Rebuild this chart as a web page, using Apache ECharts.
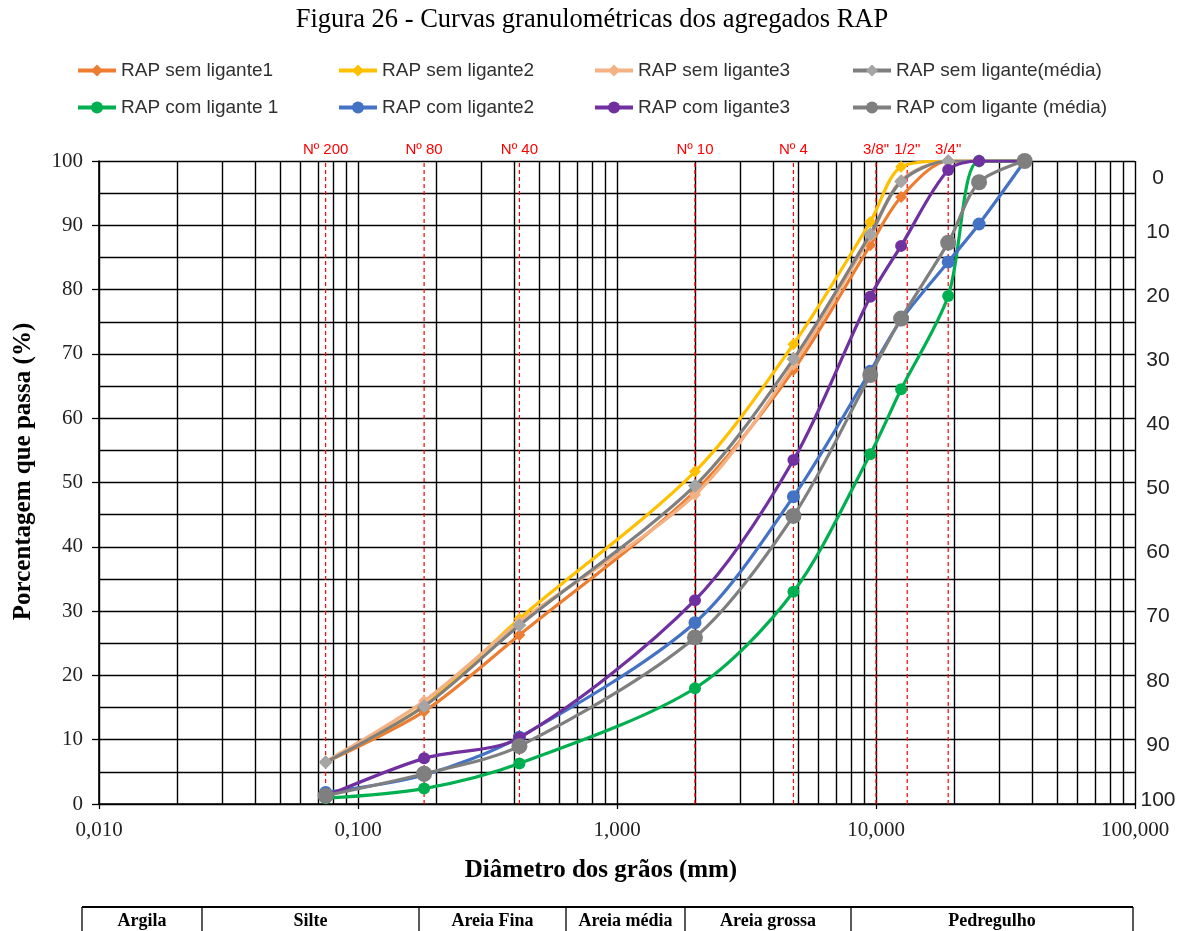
<!DOCTYPE html>
<html>
<head>
<meta charset="utf-8">
<script src="https://cdn.jsdelivr.net/npm/echarts@6/dist/echarts.min.js"></script>
<style>html,body{margin:0;padding:0;background:#fff;}#chart{width:1184px;height:931px;}</style>
</head>
<body>
<div id="chart"></div>
<script>
// ---- data ----
const sieves = [0.075, 0.18, 0.42, 2.0, 4.8, 9.5, 12.5, 19.0, 25.0, 37.5];
const semLigante1 = [6.5, 14.4, 26.3, 48.6, 67.5, 86.9, 94.4, 100, 100, 100];
const semLigante2 = [6.5, 15.3, 28.8, 51.7, 71.5, 90.5, 99.1, 100, 100, 100];
const semLigante3 = [6.6, 16.0, 28.3, 48.1, 68.3, 88.3, 97.0, 100, 100, 100];
const semLiganteMedia = [6.5, 15.2, 27.8, 49.5, 69.2, 88.6, 96.8, 100, 100, 100];
const comLigante1 = [0.9, 2.4, 6.3, 18.0, 33.0, 54.4, 64.5, 79.0, 100, 100];
const comLigante2 = [1.8, 4.5, 10.4, 28.2, 47.8, 67.3, 75.3, 84.3, 90.2, 100];
const comLigante3 = [1.2, 7.1, 10.3, 31.7, 53.5, 78.9, 86.8, 98.6, 100, 100];
const comLiganteMedia = [1.3, 4.7, 9.0, 25.9, 44.8, 66.7, 75.5, 87.3, 96.7, 100];
const sieveLabels = ['Nº 200', 'Nº 80', 'Nº 40', 'Nº 10', 'Nº 4', '3/8"', '1/2"', '3/4"'];
const sieveLines = [0.075, 0.18, 0.42, 2.0, 4.8, 10.0, 13.2, 19.0];
const rightTicks = [0, 10, 20, 30, 40, 50, 60, 70, 80, 90, 100];
const soilClasses = ['Argila', 'Silte', 'Areia Fina', 'Areia média', 'Areia grossa', 'Pedregulho'];
const seriesNames = ['RAP sem ligante1', 'RAP sem ligante2', 'RAP sem ligante3', 'RAP sem ligante(média)',
                     'RAP com ligante 1', 'RAP com ligante2', 'RAP com ligante3', 'RAP com ligante (média)'];

// ---- build ----
const allValues = [semLigante1, semLigante2, semLigante3, semLiganteMedia, comLigante1, comLigante2, comLigante3, comLiganteMedia];
const styles = [
  {color:'#ED7D31', line:'#ED7D31', symbol:'diamond', size:12},
  {color:'#FFC000', line:'#FFC000', symbol:'diamond', size:12},
  {color:'#F4B183', line:'#F4B183', symbol:'diamond', size:12},
  {color:'#A5A5A5', line:'#7F7F7F', symbol:'diamond', size:14},
  {color:'#00B050', line:'#00B050', symbol:'circle', size:12},
  {color:'#4472C4', line:'#4472C4', symbol:'circle', size:13},
  {color:'#7030A0', line:'#7030A0', symbol:'circle', size:12},
  {color:'#7F7F7F', line:'#7F7F7F', symbol:'circle', size:16}
];

// minor log gridlines (2..9 per decade)
const minorGrid = [];
[0.01, 0.1, 1, 10].forEach(d => { for (let k = 2; k <= 9; k++) minorGrid.push(+(k * d).toPrecision(3)); });

const series = allValues.map((vals, i) => ({
  name: seriesNames[i],
  type: 'line',
  xAxisIndex: 0, yAxisIndex: 0,
  data: sieves.map((s, j) => [s, vals[j]]),
  smooth: 0.3,
  symbol: styles[i].symbol,
  symbolSize: styles[i].size,
  showSymbol: true,
  itemStyle: {color: styles[i].color},
  lineStyle: {color: styles[i].line, width: 3.2},
  z: 5 + i
}));

// minor vertical gridlines
series.unshift({
  name: 'grid-minor', type: 'line', xAxisIndex: 0, yAxisIndex: 0, data: [], silent: true,
  markLine: {
    silent: true, z: 1, symbol: ['none', 'none'], animation: false,
    label: {show: false},
    lineStyle: {color: '#000', width: 1.4, type: 'solid'},
    data: minorGrid.map(v => ({xAxis: v}))
  }
});
// red sieve guide lines (as a segmented line series)
const sieveData = [];
sieveLines.forEach((x, i) => {
  sieveData.push({value: [x, 0], label: {show: false}});
  sieveData.push({value: [x, 100], name: sieveLabels[i], label: {show: true}});
  sieveData.push('-');
});
series.unshift({
  name: 'sieve-lines', type: 'line', xAxisIndex: 0, yAxisIndex: 0, silent: true, z: 3,
  data: sieveData, connectNulls: false,
  symbol: 'circle', symbolSize: 1, showSymbol: true,
  itemStyle: {color: 'rgba(0,0,0,0)'},
  lineStyle: {color: '#FF0000', width: 1.2, type: [4, 3]},
  label: {position: 'top', distance: 3, color: '#FF0000', fontSize: 15, fontFamily: 'Liberation Sans',
          formatter: p => p.name}
});
series.push({
  name: 'right-dummy', type: 'line', xAxisIndex: 1, yAxisIndex: 1, data: [], silent: true
});

const colX = [76, 337, 593, 851];
const rowY = [61, 98];
const legends = seriesNames.map((n, i) => ({
  data: [n], left: colX[i % 4], top: rowY[Math.floor(i / 4)], padding: 0,
  itemWidth: 38, itemHeight: 15, selectedMode: false,
  lineStyle: {width: 4},
  textStyle: {fontFamily: 'Liberation Sans', fontSize: 19, color: '#303030'}
}));

function tableGraphic() {
  const edges = [82, 202, 419, 566, 685, 851, 1133];
  const top = 907, bottom = 945;
  const els = [];
  els.push({type: 'line', shape: {x1: edges[0], y1: top, x2: edges[edges.length - 1], y2: top}, style: {stroke: '#000', lineWidth: 2.2}});
  edges.forEach(x => els.push({type: 'line', shape: {x1: x, y1: top, x2: x, y2: bottom}, style: {stroke: '#000', lineWidth: 1.3}}));
  soilClasses.forEach((t, i) => els.push({
    type: 'text', x: (edges[i] + edges[i + 1]) / 2, y: 921,
    style: {text: t, fill: '#000', font: 'bold 18px "Liberation Serif"', align: 'center', verticalAlign: 'middle'}
  }));
  return els;
}

const option = {
  backgroundColor: '#fff',
  animation: false,
  title: {
    text: 'Figura 26 - Curvas granulométricas dos agregados RAP',
    left: 'center', top: 2,
    textStyle: {fontFamily: 'Liberation Serif', fontWeight: 'normal', fontSize: 26.5, color: '#000'}
  },
  legend: legends,
  grid: [
    {left: 99, right: 49, top: 161, bottom: 127, containLabel: false},
    {left: 99, right: 49, top: 168, bottom: 122, containLabel: false}
  ],
  xAxis: [
    {
      type: 'log', logBase: 10, min: 0.01, max: 100, gridIndex: 0,
      name: 'Diâmetro dos grãos (mm)', nameLocation: 'middle', nameGap: 54,
      nameTextStyle: {fontFamily: 'Liberation Serif', fontWeight: 'bold', fontSize: 25, color: '#000', padding: [0, 32, 0, 0]},
      axisLine: {show: true, lineStyle: {color: '#000', width: 1.6}},
      axisTick: {show: true, length: 5, lineStyle: {color: '#000', width: 1.3}},
      axisLabel: {margin: 16, fontFamily: 'Liberation Serif', fontSize: 21, color: '#222',
                  formatter: v => Number(v).toFixed(3).replace('.', ',')},
      splitLine: {show: true, lineStyle: {color: '#000', width: 1.4}}
    },
    {type: 'value', gridIndex: 1, show: false, min: 0, max: 1}
  ],
  yAxis: [
    {
      type: 'value', min: 0, max: 100, interval: 10, gridIndex: 0,
      name: 'Porcentagem que passa (%)', nameLocation: 'middle', nameGap: 63, nameRotate: 90,
      nameTextStyle: {fontFamily: 'Liberation Serif', fontWeight: 'bold', fontSize: 25, color: '#000', padding: [0, 0, 0, 22]},
      axisLine: {show: true, lineStyle: {color: '#000', width: 1.6}},
      axisTick: {show: true, length: 7, lineStyle: {color: '#000', width: 1.3}},
      axisLabel: {margin: 16, fontFamily: 'Liberation Serif', fontSize: 21, color: '#222'},
      splitLine: {show: true, lineStyle: {color: '#000', width: 1.4}},
      minorTick: {show: false, splitNumber: 2},
      minorSplitLine: {show: true, lineStyle: {color: '#000', width: 1.4}}
    },
    {
      type: 'value', min: 0, max: 100, interval: 10, gridIndex: 1, position: 'right', inverse: true,
      axisLine: {show: false}, axisTick: {show: false}, splitLine: {show: false},
      axisLabel: {
        margin: 23, align: 'center', fontFamily: 'Liberation Sans', fontSize: 21, color: '#222',
        formatter: v => v === rightTicks[0] ? '{a|' + v + '}' : (v === rightTicks[rightTicks.length - 1] ? '{b|' + v + '}' : String(v)),
        rich: {
          a: {fontFamily: 'Liberation Sans', fontSize: 21, color: '#222', padding: [20, 0, 0, 0]},
          b: {fontFamily: 'Liberation Sans', fontSize: 21, color: '#222', padding: [0, 0, 18, 0]}
        }
      }
    }
  ],
  graphic: tableGraphic(),
  series: series
};

const chart = echarts.init(document.getElementById('chart'), null, {renderer: 'canvas'});
chart.setOption(option);
</script>
</body>
</html>
